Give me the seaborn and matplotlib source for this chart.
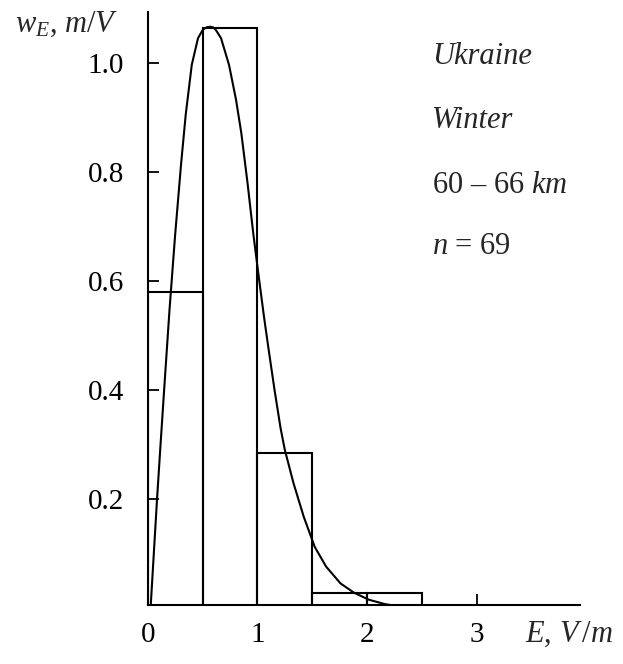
import matplotlib
matplotlib.use('Agg')
import matplotlib.pyplot as plt
import seaborn as sns
import pandas as pd

# ---- data ----
bin_edges = [0.0, 0.5, 1.0, 1.5, 2.0, 2.5]
bar_left = [0.0, 0.5, 1.0, 1.5, 2.0]
bar_heights = [0.580, 1.065, 0.286, 0.029, 0.029]

curve_E = [0.026, 0.085, 0.114, 0.149, 0.199, 0.249, 0.304, 0.347, 0.402, 0.459,
           0.505, 0.540, 0.568, 0.595, 0.619, 0.669, 0.742, 0.806, 0.854, 0.911,
           0.963, 1.009, 1.061, 1.104, 1.157, 1.212, 1.251, 1.330, 1.424, 1.524,
           1.627, 1.759, 1.882, 2.019, 2.165, 2.256]
curve_w = [0.000, 0.200, 0.291, 0.398, 0.548, 0.682, 0.814, 0.906, 0.997, 1.046,
           1.062, 1.066, 1.067, 1.066, 1.062, 1.046, 0.997, 0.933, 0.872, 0.780,
           0.688, 0.615, 0.535, 0.474, 0.401, 0.331, 0.291, 0.230, 0.168, 0.113,
           0.077, 0.046, 0.029, 0.016, 0.008, 0.005]

x_ticks = [0, 1, 2, 3]
x_tick_labels = ['0', '1', '2', '3']
y_ticks = [0.2, 0.4, 0.6, 0.8, 1.0]
y_tick_labels = ['0.2', '0.4', '0.6', '0.8', '1.0']

y_label = r'$w_{E}$, $m/V$'
x_label = r'$E$, $V\,/m$'
notes = ['Ukraine', 'Winter', r'60 – 66 $km$', r'$n$ = 69']

# ---- style ----
sns.set_theme(style='white')
plt.rcParams['font.family'] = ['Liberation Serif', 'DejaVu Serif']
plt.rcParams['mathtext.fontset'] = 'custom'
plt.rcParams['mathtext.rm'] = 'Liberation Serif'
plt.rcParams['mathtext.it'] = 'Liberation Serif:italic'
plt.rcParams['mathtext.bf'] = 'Liberation Serif:bold'

W, H = 623, 664
fig = plt.figure(figsize=(W / 100, H / 100), dpi=100)
fig.patch.set_facecolor('white')
ax = fig.add_axes([147.7 / W, 1 - 605 / H, (580 - 147.7) / W, (605 - 12) / H])
ax.set_facecolor('white')

bars_df = pd.DataFrame({'E': bar_left, 'w': bar_heights})
sns.histplot(data=bars_df, x='E', weights='w', bins=bin_edges, stat='count',
             fill=False, color='black', edgecolor='black', linewidth=1.5, ax=ax)

curve_df = pd.DataFrame({'E': curve_E, 'w': curve_w})
sns.lineplot(data=curve_df, x='E', y='w', sort=False, color='black',
             linewidth=1.5, ax=ax)
for ln in ax.lines:
    ln.set_solid_joinstyle('round')

ax.set_xlim(0, 3.944)
ax.set_ylim(0.0064, 1.094)
ax.set_xticks(x_ticks)
ax.set_xticklabels(x_tick_labels)
ax.set_yticks(y_ticks)
ax.set_yticklabels(y_tick_labels)
ax.set_xlabel('')
ax.set_ylabel('')
ax.grid(False)

for s in ['top', 'right']:
    ax.spines[s].set_visible(False)
for s in ['left', 'bottom']:
    ax.spines[s].set_linewidth(1.5)
    ax.spines[s].set_color('black')

ax.tick_params(axis='both', direction='in', length=8, width=1.3, color='black',
               labelsize=21, labelcolor='black')
ax.tick_params(axis='y', pad=17)
ax.tick_params(axis='x', pad=12)
ax.tick_params(left=True, bottom=True)

fs = 22
fig.text(15 / W, 1 - 32 / H, y_label, fontsize=fs, ha='left', va='baseline')
fig.text(525 / W, 1 - 642 / H, x_label, fontsize=fs, ha='left', va='baseline')

note_baselines = [64.3, 128.3, 192.7, 254.3]
note_styles = ['italic', 'italic', 'normal', 'normal']
for txt, yb, st in zip(notes, note_baselines, note_styles):
    fig.text(432 / W, 1 - yb / H, txt, fontsize=fs, style=st, ha='left', va='baseline')

fig.savefig('out.png', dpi=100, facecolor='white')
